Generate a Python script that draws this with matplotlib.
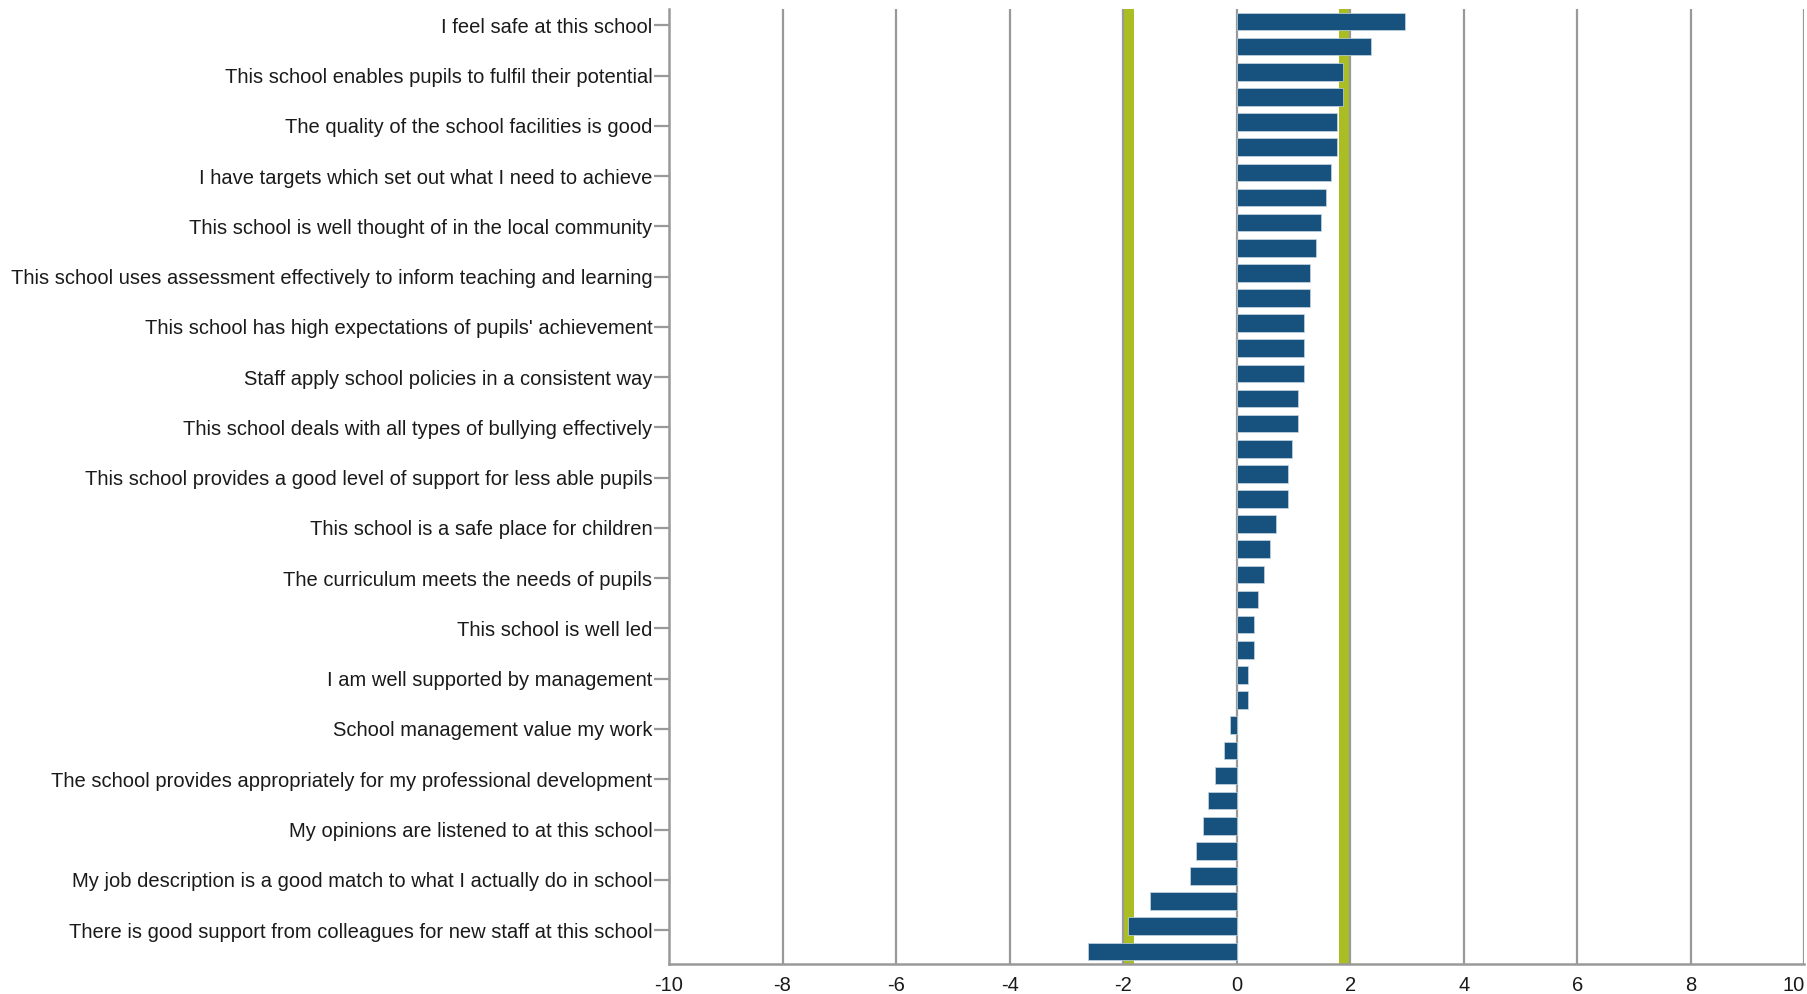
import matplotlib
matplotlib.use("Agg")
import matplotlib.pyplot as plt
import numpy as np

plt.rcParams['font.family'] = ['Liberation Sans', 'DejaVu Sans']
plt.rcParams['axes.unicode_minus'] = False

# 38 statements; only every other label is shown on the axis
shown_labels = [
    "I feel safe at this school",
    "This school enables pupils to fulfil their potential",
    "The quality of the school facilities is good",
    "I have targets which set out what I need to achieve",
    "This school is well thought of in the local community",
    "This school uses assessment effectively to inform teaching and learning",
    "This school has high expectations of pupils' achievement",
    "Staff apply school policies in a consistent way",
    "This school deals with all types of bullying effectively",
    "This school provides a good level of support for less able pupils",
    "This school is a safe place for children",
    "The curriculum meets the needs of pupils",
    "This school is well led",
    "I am well supported by management",
    "School management value my work",
    "The school provides appropriately for my professional development",
    "My opinions are listened to at this school",
    "My job description is a good match to what I actually do in school",
    "There is good support from colleagues for new staff at this school",
]

values = [
    2.96, 2.36, 1.87, 1.87, 1.77, 1.77, 1.66, 1.57, 1.49, 1.39,
    1.29, 1.29, 1.18, 1.18, 1.18, 1.08, 1.08, 0.97, 0.90, 0.90,
    0.70, 0.59, 0.48, 0.38, 0.31, 0.31, 0.20, 0.20, -0.11, -0.22,
    -0.39, -0.50, -0.60, -0.71, -0.82, -1.52, -1.91, -2.61,
]

x_ticks = [-10, -8, -6, -4, -2, 0, 2, 4, 6, 8, 10]
bands = [(-2.0, -1.8), (1.8, 2.0)]

bar_color = '#17527f'
band_color = '#aabd22'
grid_color = '#999999'

fig = plt.figure(figsize=(18.08, 9.94), dpi=100)
ax = fig.add_axes([0.370, 0.0302, 0.628, 0.9608])

n = len(values)
ypos = np.arange(n)

for lo, hi in bands:
    ax.axvspan(lo, hi, color=band_color, zorder=1, lw=0)

for xv in x_ticks[1:]:
    ax.axvline(xv, color=grid_color, lw=1.6, zorder=1.5)

ax.barh(ypos, values, height=0.70, color=bar_color, edgecolor='#c8d6e2',
        linewidth=0.5, zorder=3)

ax.set_xlim(-10, 10)
ax.set_ylim(n - 0.5, -0.5)
ax.set_xticks(x_ticks)
ax.set_xticklabels([str(t) for t in x_ticks])
ax.set_yticks(ypos[::2][:len(shown_labels)] + 0.15)
ax.set_yticklabels(shown_labels)

ax.tick_params(axis='y', length=11, width=1.6, color=grid_color, pad=1,
               labelsize=14.5, labelcolor='#1a1a1a')
ax.tick_params(axis='x', length=0, pad=9, labelsize=14.5, labelcolor='#1a1a1a')

xt = ax.get_xticklabels()
xt[-1].set_horizontalalignment('right')

for s in ['top', 'right']:
    ax.spines[s].set_visible(False)
for s in ['left', 'bottom']:
    ax.spines[s].set_color(grid_color)
    ax.spines[s].set_linewidth(1.8)

fig.savefig('out.png', dpi=100)
